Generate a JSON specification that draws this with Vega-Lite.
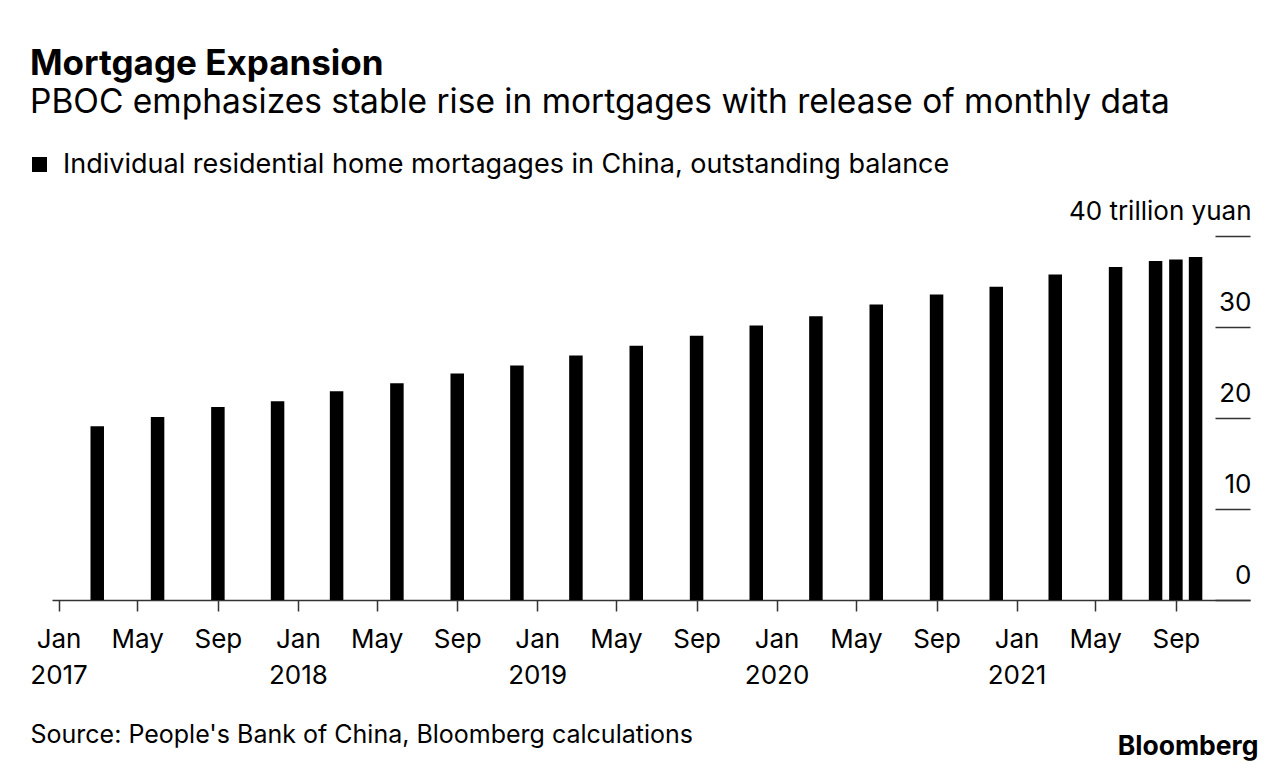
{
  "$schema": "https://vega.github.io/schema/vega-lite/v6.json",
  "width": 1198,
  "height": 364,
  "autosize": {"type": "none"},
  "padding": {"left": 52, "top": 236, "right": 36, "bottom": 172},
  "background": "white",
  "config": {
    "font": "Inter",
    "view": {"stroke": null}
  },
  "title": {
    "text": "Mortgage Expansion",
    "subtitle": "PBOC emphasizes stable rise in mortgages with release of monthly data",
    "anchor": "start",
    "frame": "group",
    "dx": -22,
    "offset": 32,
    "font": "Inter",
    "fontSize": 35,
    "fontWeight": "bold",
    "color": "#000000",
    "subtitleFont": "Inter",
    "subtitleFontSize": 33.5,
    "subtitleColor": "#000000",
    "subtitlePadding": 5
  },
  "data": {
    "values": [
      {"date": "2017-03-01T00:00:00", "value": 19.08},
      {"date": "2017-06-01T00:00:00", "value": 20.11},
      {"date": "2017-09-01T00:00:00", "value": 21.22},
      {"date": "2017-12-01T00:00:00", "value": 21.83},
      {"date": "2018-03-01T00:00:00", "value": 22.93},
      {"date": "2018-06-01T00:00:00", "value": 23.81},
      {"date": "2018-09-01T00:00:00", "value": 24.88},
      {"date": "2018-12-01T00:00:00", "value": 25.76},
      {"date": "2019-03-01T00:00:00", "value": 26.86},
      {"date": "2019-06-01T00:00:00", "value": 27.93},
      {"date": "2019-09-01T00:00:00", "value": 29.03},
      {"date": "2019-12-01T00:00:00", "value": 30.17},
      {"date": "2020-03-01T00:00:00", "value": 31.19},
      {"date": "2020-06-01T00:00:00", "value": 32.48},
      {"date": "2020-09-01T00:00:00", "value": 33.58},
      {"date": "2020-12-01T00:00:00", "value": 34.43},
      {"date": "2021-03-01T00:00:00", "value": 35.78},
      {"date": "2021-06-01T00:00:00", "value": 36.58},
      {"date": "2021-08-01T00:00:00", "value": 37.25},
      {"date": "2021-09-01T00:00:00", "value": 37.43},
      {"date": "2021-10-01T00:00:00", "value": 37.69}
    ]
  },
  "mark": {"type": "bar", "size": 13.5},
  "encoding": {
    "x": {
      "field": "date",
      "type": "temporal",
      "scale": {
        "domain": [
          {"year": 2016, "month": 12, "date": 22},
          {"year": 2021, "month": 12, "date": 23}
        ],
        "padding": 0,
        "nice": false
      },
      "axis": {
        "values": [
          {"year": 2017, "month": 1, "date": 1},
          {"year": 2017, "month": 5, "date": 1},
          {"year": 2017, "month": 9, "date": 1},
          {"year": 2018, "month": 1, "date": 1},
          {"year": 2018, "month": 5, "date": 1},
          {"year": 2018, "month": 9, "date": 1},
          {"year": 2019, "month": 1, "date": 1},
          {"year": 2019, "month": 5, "date": 1},
          {"year": 2019, "month": 9, "date": 1},
          {"year": 2020, "month": 1, "date": 1},
          {"year": 2020, "month": 5, "date": 1},
          {"year": 2020, "month": 9, "date": 1},
          {"year": 2021, "month": 1, "date": 1},
          {"year": 2021, "month": 5, "date": 1},
          {"year": 2021, "month": 9, "date": 1}
        ],
        "labelExpr": "month(datum.value) == 0 ? [timeFormat(datum.value, '%b'), timeFormat(datum.value, '%Y')] : timeFormat(datum.value, '%b')",
        "grid": false,
        "domainColor": "#333333",
        "domainWidth": 1.5,
        "tickColor": "#333333",
        "tickWidth": 1.5,
        "tickSize": 11,
        "labelFont": "Inter",
        "labelFontSize": 26,
        "labelColor": "#000000",
        "labelPadding": 15,
        "labelLineHeight": 36,
        "labelBaseline": "top",
        "labelFlush": false,
        "labelOverlap": false,
        "title": "Source: People's Bank of China, Bloomberg calculations",
        "titleFont": "Inter",
        "titleFontSize": 25,
        "titleFontWeight": "normal",
        "titleColor": "#000000",
        "titleAlign": "left",
        "titleAnchor": "start",
        "titleBaseline": "alphabetic",
        "titleX": -22,
        "titleY": 142
      }
    },
    "y": {
      "field": "value",
      "type": "quantitative",
      "scale": {"domain": [0, 40]},
      "axis": {
        "orient": "right",
        "values": [0, 10, 20, 30, 40],
        "grid": false,
        "domain": false,
        "tickSize": -35,
        "tickColor": "#333333",
        "tickWidth": 1.5,
        "labelAlign": "right",
        "labelBaseline": "alphabetic",
        "labelOffset": -17,
        "labelPadding": 36,
        "labelLimit": 400,
        "labelFont": "Inter",
        "labelFontSize": 26,
        "labelColor": "#000000",
        "labelExpr": "datum.value == 40 ? '40 trillion yuan' : datum.label",
        "title": "Bloomberg",
        "titleFont": "Inter",
        "titleFontSize": 26.5,
        "titleFontWeight": "bold",
        "titleColor": "#000000",
        "titleAngle": 0,
        "titleAlign": "right",
        "titleBaseline": "alphabetic",
        "titleX": 8,
        "titleY": 518
      }
    },
    "color": {
      "datum": "Individual residential home mortagages in China, outstanding balance",
      "type": "nominal",
      "scale": {"range": ["#000000"]},
      "legend": {
        "title": null,
        "orient": "none",
        "legendX": -26,
        "legendY": -85,
        "padding": 0,
        "symbolType": "square",
        "symbolSize": 225,
        "symbolStrokeWidth": 0,
        "symbolFillColor": "#000000",
        "labelFont": "Inter",
        "labelFontSize": 27,
        "labelColor": "#000000",
        "labelOffset": 10,
        "labelLimit": 1200
      }
    }
  }
}
